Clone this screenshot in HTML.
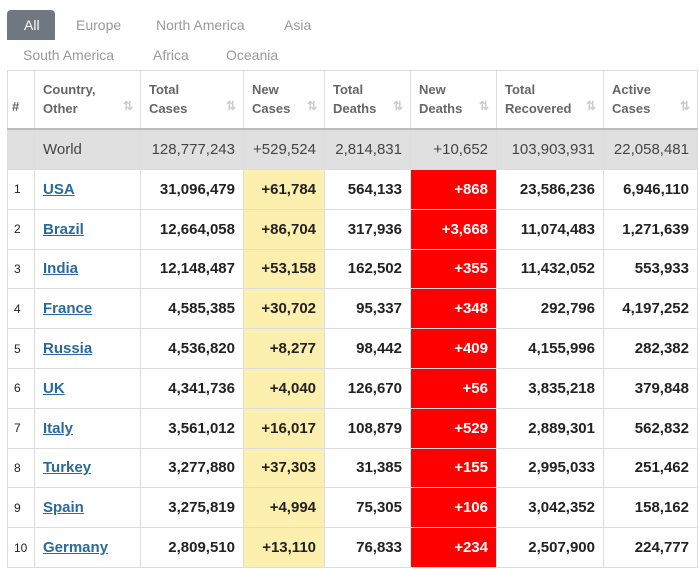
<!DOCTYPE html><html><head><style>
body{margin:0;width:699px;height:569px;overflow:hidden;background:#fff;font-family:"Liberation Sans",sans-serif;}
.tab{position:absolute;font-size:14px;color:#999;}
table{position:absolute;left:7px;top:70px;border-collapse:collapse;table-layout:fixed;font-size:15px;}
td,th{border:1px solid #ddd;padding:0 8px;box-sizing:border-box;}
th{height:58px;text-align:left;font-weight:bold;color:#666;font-size:13px;line-height:19px;vertical-align:middle;position:relative;border-bottom:2px solid #bbb;}
th .s{position:absolute;right:7px;bottom:12px;color:#ccc;font-size:12px;}
tr.w td{background:#e0e0e0;height:41px;color:#444;font-size:15px;}
tr.r td{height:39.8px;font-weight:bold;color:#222;}
td{text-align:right;}
td.n{text-align:left;color:#999;font-weight:normal!important;font-size:12px;padding:0 6px;}
td.c{text-align:left;}
td.c a{color:#2a6a9a;text-decoration:underline;}
td.y{background:#fdefae;}
td.red{background:#ff0000;color:#fff!important;}
</style></head><body>
<div style="position:absolute;left:7px;top:10px;width:48px;height:30px;background:#6f7780;border-radius:4px 4px 0 0;"></div>
<div class="tab" style="left:24px;top:17px;color:#fff">All</div>
<div class="tab" style="left:76px;top:17px">Europe</div>
<div class="tab" style="left:156px;top:17px">North America</div>
<div class="tab" style="left:284px;top:17px">Asia</div>
<div class="tab" style="left:23px;top:47px">South America</div>
<div class="tab" style="left:153px;top:47px">Africa</div>
<div class="tab" style="left:226px;top:47px">Oceania</div>
<table>
<colgroup><col style="width:27px"><col style="width:106px"><col style="width:103px"><col style="width:81px"><col style="width:86px"><col style="width:86px"><col style="width:107px"><col style="width:94px"></colgroup>
<tr><th style="padding:0 4px;vertical-align:bottom;padding-bottom:12px">#</th><th>Country,<br>Other<span class="s">⇅</span></th><th>Total<br>Cases<span class="s">⇅</span></th><th>New<br>Cases<span class="s">⇅</span></th><th>Total<br>Deaths<span class="s">⇅</span></th><th>New<br>Deaths<span class="s">⇅</span></th><th>Total<br>Recovered<span class="s">⇅</span></th><th>Active<br>Cases<span class="s">⇅</span></th></tr>
<tr class="w"><td></td><td style="text-align:left">World</td><td>128,777,243</td><td>+529,524</td><td>2,814,831</td><td>+10,652</td><td>103,903,931</td><td>22,058,481</td></tr>
<tr class="r"><td class="n">1</td><td class="c"><a>USA</a></td><td>31,096,479</td><td class="y">+61,784</td><td>564,133</td><td class="red">+868</td><td>23,586,236</td><td>6,946,110</td></tr>
<tr class="r"><td class="n">2</td><td class="c"><a>Brazil</a></td><td>12,664,058</td><td class="y">+86,704</td><td>317,936</td><td class="red">+3,668</td><td>11,074,483</td><td>1,271,639</td></tr>
<tr class="r"><td class="n">3</td><td class="c"><a>India</a></td><td>12,148,487</td><td class="y">+53,158</td><td>162,502</td><td class="red">+355</td><td>11,432,052</td><td>553,933</td></tr>
<tr class="r"><td class="n">4</td><td class="c"><a>France</a></td><td>4,585,385</td><td class="y">+30,702</td><td>95,337</td><td class="red">+348</td><td>292,796</td><td>4,197,252</td></tr>
<tr class="r"><td class="n">5</td><td class="c"><a>Russia</a></td><td>4,536,820</td><td class="y">+8,277</td><td>98,442</td><td class="red">+409</td><td>4,155,996</td><td>282,382</td></tr>
<tr class="r"><td class="n">6</td><td class="c"><a>UK</a></td><td>4,341,736</td><td class="y">+4,040</td><td>126,670</td><td class="red">+56</td><td>3,835,218</td><td>379,848</td></tr>
<tr class="r"><td class="n">7</td><td class="c"><a>Italy</a></td><td>3,561,012</td><td class="y">+16,017</td><td>108,879</td><td class="red">+529</td><td>2,889,301</td><td>562,832</td></tr>
<tr class="r"><td class="n">8</td><td class="c"><a>Turkey</a></td><td>3,277,880</td><td class="y">+37,303</td><td>31,385</td><td class="red">+155</td><td>2,995,033</td><td>251,462</td></tr>
<tr class="r"><td class="n">9</td><td class="c"><a>Spain</a></td><td>3,275,819</td><td class="y">+4,994</td><td>75,305</td><td class="red">+106</td><td>3,042,352</td><td>158,162</td></tr>
<tr class="r"><td class="n">10</td><td class="c"><a>Germany</a></td><td>2,809,510</td><td class="y">+13,110</td><td>76,833</td><td class="red">+234</td><td>2,507,900</td><td>224,777</td></tr>
</table>
</body></html>
